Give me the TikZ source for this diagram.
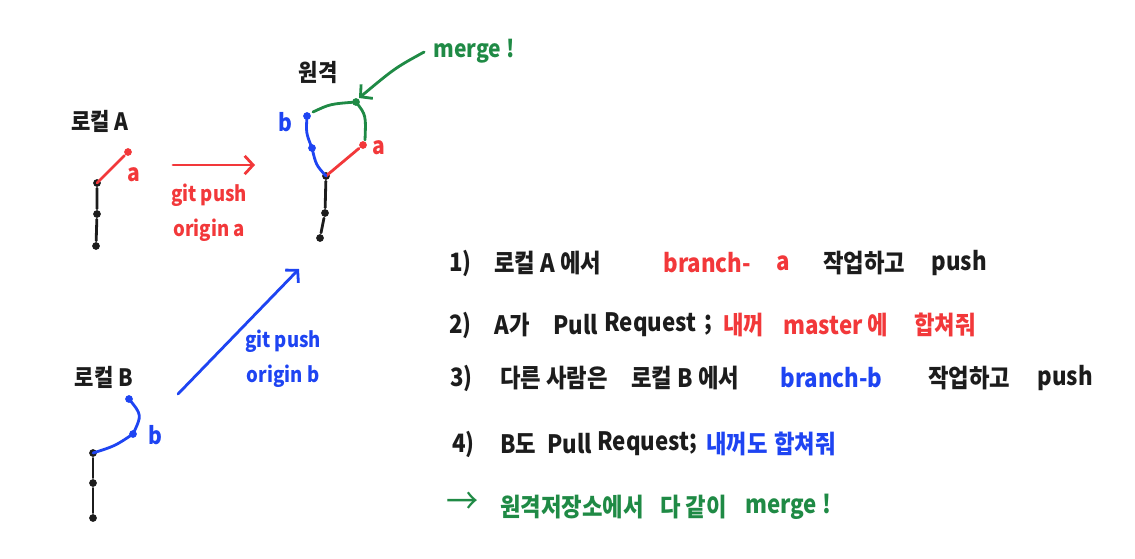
\documentclass[tikz,border=0pt]{standalone}
\usepackage{fontspec}
\setmainfont{Noto Sans CJK KR}[FakeStretch=0.88]
\usetikzlibrary{arrows.meta}
\definecolor{penred}{HTML}{F2383A}
\definecolor{penblue}{HTML}{1E44F2}
\definecolor{pengreen}{HTML}{1F8A45}
\definecolor{penblack}{HTML}{1C1C1C}

\begin{document}
\begin{tikzpicture}[x=0.025cm, y=-0.025cm, line width=2pt, line cap=round,
        every node/.style={inner sep=0pt, text=penblack},
        commit/.style={circle, fill, inner sep=0pt, minimum size=5.5pt},
        repo/.style={font=\fontsize{17}{19}\selectfont\bfseries},
        pushnote/.style={font=\fontsize{15}{17}\selectfont\bfseries, align=center},
        item/.style={font=\fontsize{18}{20}\selectfont\bfseries, anchor=west},
        pen/.style={-{Straight Barb[length=6pt, width=13pt]}}]
    \useasboundingbox (0,0) rectangle (1135,558);

    % local A
    \node[repo] (LA) at (100,121) {로컬 A};
    \node[commit, penblack] (A1) at (96,246) {};
    \node[commit, penblack] (A2) at (97,214) {};
    \node[commit, penblack] (A3) at (97,183) {};
    \node[commit, penred] (Aa) at (128,152) {};
    \node[text=penred, repo] (Aalbl) at (134,175) {a};
    \draw[penblack] (A1) -- (A2) -- (A3);
    \draw[penred] (A3.center) -- (Aa);

    \coordinate (pushA1) at (173,165);
    \coordinate (pushA2) at (255,165);
    \draw[pen, penred] (pushA1) -- (pushA2);
    \node[pushnote, text=penred] (pushAtxt) at (209,213) {git push\\[8pt]origin a};

    % remote
    \node[repo] (R) at (318,72) {원격};
    \node[commit, penblack] (R1) at (320,238) {};
    \node[commit, penblack] (R2) at (325,213) {};
    \node[commit, penblack] (R3) at (326,176) {};
    \node[commit, penred] (Ra) at (363,145) {};
    \node[commit, penblue] (Rb1) at (312,148) {};
    \node[commit, penblue] (Rb2) at (307,116) {};
    \node[commit, pengreen] (Rm) at (356,102) {};
    \node[text=penred, repo] (Ralbl) at (379,148) {a};
    \node[text=penblue, repo] (Rblbl) at (285,122) {b};
    \draw[penblack] (R1) -- (R2) -- (R3);
    \draw[penred] (R3.center) -- (Ra);
    \draw[penblue] (R3.center) .. controls (316,165) .. (Rb1.center) .. controls (306,133) .. (Rb2.center);
    \draw[pengreen] (313,112) .. controls (330,104) .. (Rm.center) .. controls (366,115) .. (365,140);

    \node[pushnote, text=pengreen, font=\fontsize{17}{19}\selectfont\bfseries] (mergetxt) at (474,51) {merge !};
    \coordinate (mergeTo) at (359,98);
    \draw[pen, pengreen] (mergetxt.west) ++(-8,1) .. controls (395,68) .. (mergeTo);

    % local B
    \node[repo] (LB) at (104,377) {로컬 B};
    \node[commit, penblack] (B1) at (93,518) {};
    \node[commit, penblack] (B2) at (93,483) {};
    \node[commit, penblack] (B3) at (93,453) {};
    \node[commit, penblue] (Bb1) at (133,434) {};
    \node[commit, penblue] (Bb2) at (129,399) {};
    \node[text=penblue, repo] (Bblbl) at (155,435) {b};
    \draw[penblack] (B1) -- (B2) -- (B3);
    \draw[penblue] (B3.center) .. controls (115,446) .. (Bb1.center) .. controls (142,415) .. (Bb2.center);

    \coordinate (pushB1) at (178,394);
    \coordinate (pushB2) at (299,269);
    \draw[pen, penblue] (pushB1) -- (pushB2);
    \node[pushnote, text=penblue] (pushBtxt) at (283,359) {git push\\[8pt]origin b};

    % steps
    \node[item] (s1) at (448,263) {1)};
    \node[item] (s1a) at (493,263) {로컬 A 에서};
    \node[item, text=penred] (s1b) at (662,263) {branch-};
    \node[item, text=penred] (s1c) at (775,263) {a};
    \node[item] (s1d) at (822,263) {작업하고};
    \node[item] (s1e) at (930,263) {push};

    \node[item] (s2) at (448,325) {2)};
    \node[item] (s2a) at (493,325) {A가};
    \node[item] (s2b) at (552,325) {Pull};
    \node[item] (s2c) at (603,325) {Request};
    \node[item] (s2d) at (703,325) {;};
    \node[item, text=penred] (s2e) at (722,325) {내꺼};
    \node[item, text=penred] (s2f) at (782,325) {master 에};
    \node[item, text=penred] (s2g) at (913,325) {합쳐줘};

    \node[item] (s3) at (449,378) {3)};
    \node[item] (s3a) at (499,378) {다른 사람은};
    \node[item] (s3b) at (630,378) {로컬 B 에서};
    \node[item, text=penblue] (s3c) at (779,378) {branch-b};
    \node[item] (s3d) at (927,378) {작업하고};
    \node[item] (s3e) at (1036,378) {push};

    \node[item] (s4) at (451,444) {4)};
    \node[item] (s4a) at (499,444) {B도};
    \node[item] (s4b) at (546,444) {Pull};
    \node[item] (s4c) at (596,444) {Request};
    \node[item] (s4d) at (688,444) {;};
    \node[item, text=penblue] (s4e) at (705,444) {내꺼도};
    \node[item, text=penblue] (s4f) at (773,444) {합쳐줘};

    \node[item, text=pengreen, font=\fontsize{26}{28}\selectfont] (s5) at (445,503) {→};
    \node[item, text=pengreen] (s5a) at (499,507) {원격저장소에서};
    \node[item, text=pengreen] (s5b) at (659,507) {다 같이};
    \node[item, text=pengreen] (s5c) at (744,507) {merge !};
\end{tikzpicture}
\end{document}
